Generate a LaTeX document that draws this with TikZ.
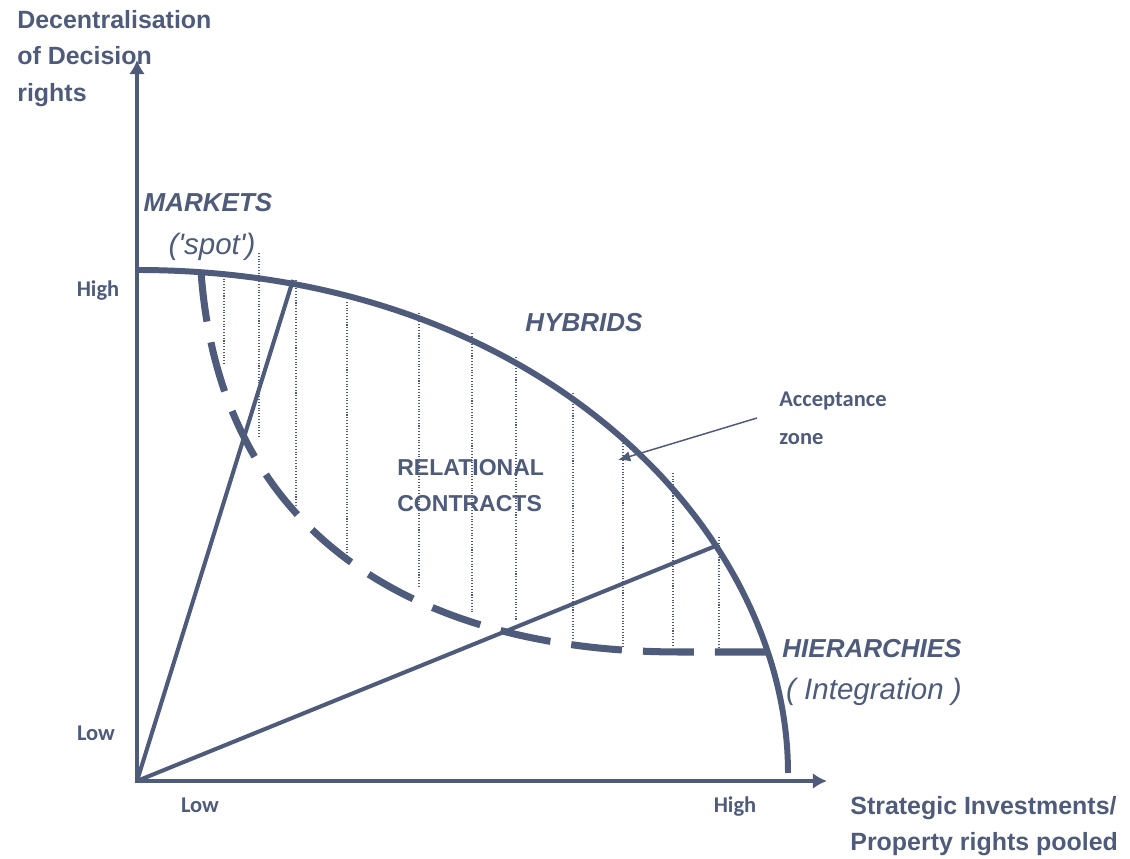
\documentclass[tikz,border=0pt]{standalone}
\usepackage{fontspec}
\setmainfont{Liberation Sans}
\newfontfamily\calfont{Carlito}
\newfontfamily\plainfont{Liberation Sans}
\usetikzlibrary{arrows.meta}
\definecolor{slate}{RGB}{79,91,122}

\begin{document}
\begin{tikzpicture}[color=slate,
  axis/.style={line width=2.8pt, {Latex[length=8pt,width=9pt]}-{Latex[length=8pt,width=9pt]}},
  ray/.style={line width=2.3pt},
  frontier/.style={line width=3.4pt},
  gapline/.style={line width=4pt, dash pattern=on 29pt off 12pt},
  zoneline/.style={line width=0.6pt, dash pattern=on 0.6pt off 1pt},
  lvl/.style={font=\calfont\bfseries\fontsize{12.8}{15}\selectfont, inner sep=0},
  form/.style={font=\bfseries\itshape\fontsize{14.8}{18}\selectfont, inner sep=0},
  paren/.style={font=\plainfont\itshape\fontsize{16.8}{20}\selectfont, inner sep=0},
  axtitle/.style={font=\bfseries\fontsize{14.2}{20.8}\selectfont, align=left, inner sep=0}]
\useasboundingbox (-2.74,-1.56) rectangle (19.86,15.62);
\coordinate (O) at (0,0);
\coordinate (ytip) at (0,14.42);
\coordinate (xtip) at (13.8,0);
\coordinate (mk) at (3.12,10.02);
\coordinate (hi) at (11.62,4.72);
\coordinate (acctip) at (9.62,6.42);
% Acceptance zone hatching
\foreach \x/\t/\b in {1.74/10.16/8.32, 2.44/10.56/6.88, 3.18/10.02/5.52,
  4.2/9.58/4.42, 5.64/9.36/3.86, 6.7/8.96/3.38, 7.58/8.48/3.22,
  8.72/7.76/2.82, 9.72/6.92/2.68, 10.72/6.16/2.68, 11.64/4.88/2.58}
  \draw[zoneline] (\x,\t) -- (\x,\b);
% Curves
\draw[gapline] (1.28,10.2) .. controls (1.66,4.72) and (5.86,2.58) .. (10.86,2.58) -- (12.6,2.58);
\draw[ray] (O) -- (mk);
\draw[ray] (O) -- (hi);
\draw[frontier] (0,10.22) .. controls (8.07,10.22) and (13.02,4.99) .. (13.02,0.16);
\draw[axis] (ytip) -- (O) -- (xtip);
% Labels
\node[axtitle, anchor=north west] (ytitle) at (-2.4,15.42) {Decentralisation\\of Decision\\rights};
\node[axtitle, anchor=north west] (xtitle) at (14.26,-0.3) {Strategic Investments/\\Property rights pooled};
\node[lvl, anchor=base] (yhigh) at (-0.78,9.68) {High};
\node[lvl, anchor=base] (ylow) at (-0.82,0.8) {Low};
\node[lvl, anchor=base] (xlow) at (1.26,-0.64) {Low};
\node[lvl, anchor=base] (xhigh) at (11.96,-0.64) {High};
\node[form] (markets) at (1.42,11.56) {MARKETS};
\node[paren] (spot) at (1.5,10.68) {('spot')};
\node[form] (hybrids) at (8.94,9.16) {HYBRIDS};
\node[form] (hier) at (14.7,2.64) {HIERARCHIES};
\node[paren] (integ) at (14.74,1.78) {( Integration )};
\node[axtitle, font=\bfseries\fontsize{13.1}{20.5}\selectfont, anchor=west] (relc) at (5.2,5.9) {RELATIONAL\\CONTRACTS};
\node[lvl, align=left, font=\calfont\bfseries\fontsize{12.8}{21.6}\selectfont, anchor=west] (acc) at (12.84,7.26) {Acceptance\\zone};
% Arrows
\draw[-{Latex[length=7pt,width=6pt]}, line width=0.85pt] ([xshift=-0.44cm]acc.west) -- (acctip);
\end{tikzpicture}
\end{document}
